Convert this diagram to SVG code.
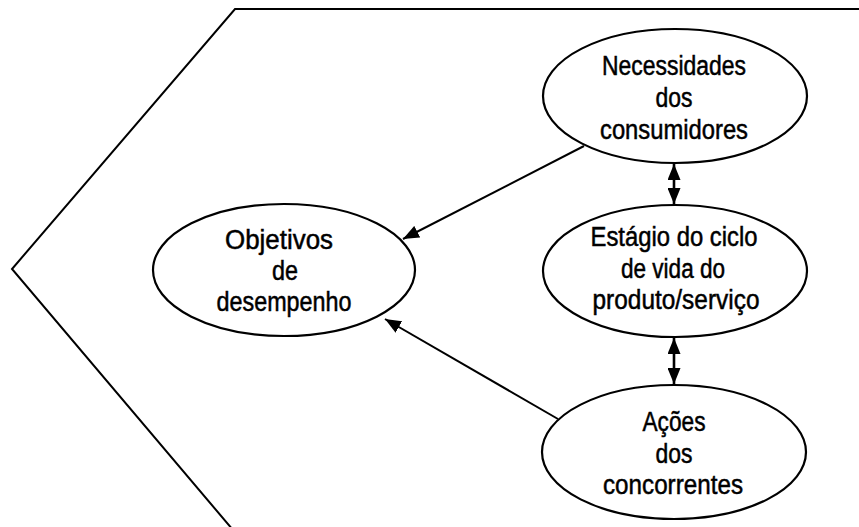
<svg xmlns="http://www.w3.org/2000/svg" width="859" height="527" viewBox="0 0 859 527">
<style>
.frame{fill:none;stroke:#000;stroke-width:2;stroke-linejoin:miter}
.node{fill:#fff;stroke:#000;stroke-width:2.2}
.lbl{font-family:"Liberation Sans Narrow","Liberation Sans",Arial,sans-serif;font-size:27px;fill:#000;stroke:#000;stroke-width:0.5;text-anchor:middle}
.conn{stroke:#000;stroke-width:2;fill:none}
.dbl{stroke:#000;stroke-width:2.6;fill:none}
</style>
<defs>
<marker id="ah2" viewBox="0 0 16 13" refX="16" refY="6.5" markerWidth="16" markerHeight="13" markerUnits="userSpaceOnUse" orient="auto-start-reverse">
<path d="M0,0 L16,6.5 L0,13 z" fill="#000"/>
</marker>
</defs>
<rect width="859" height="527" fill="#fff"/>
<path class="frame" d="M859,9 L235,9 L12,269 L233,530"/>
<g id="connectors">
<line class="conn" x1="584" y1="146" x2="403" y2="239" marker-end="url(#ah2)"/>
<line class="conn" x1="558" y1="419" x2="385" y2="319" marker-end="url(#ah2)"/>
<line class="dbl" x1="674" y1="164" x2="674" y2="204" marker-start="url(#ah2)" marker-end="url(#ah2)"/>
<line class="dbl" x1="674" y1="338" x2="674" y2="384" marker-start="url(#ah2)" marker-end="url(#ah2)"/>
</g>
<g id="objetivos">
<ellipse class="node" cx="284" cy="270" rx="131" ry="66"/>
<text class="lbl" x="279" y="249" textLength="108" lengthAdjust="spacingAndGlyphs">Objetivos</text>
<text class="lbl" x="285" y="280" textLength="26" lengthAdjust="spacingAndGlyphs">de</text>
<text class="lbl" x="284" y="311" textLength="135" lengthAdjust="spacingAndGlyphs">desempenho</text>
</g>
<g id="necessidades">
<ellipse class="node" cx="675" cy="96" rx="132" ry="67"/>
<text class="lbl" x="674" y="75" textLength="144" lengthAdjust="spacingAndGlyphs">Necessidades</text>
<text class="lbl" x="674" y="107" textLength="37" lengthAdjust="spacingAndGlyphs">dos</text>
<text class="lbl" x="674" y="139" textLength="148" lengthAdjust="spacingAndGlyphs">consumidores</text>
</g>
<g id="estagio">
<ellipse class="node" cx="675" cy="271" rx="132" ry="66"/>
<text class="lbl" x="674" y="246" textLength="167" lengthAdjust="spacingAndGlyphs">Estágio do ciclo</text>
<text class="lbl" x="673" y="278" textLength="104" lengthAdjust="spacingAndGlyphs">de vida do</text>
<text class="lbl" x="676" y="309" textLength="167" lengthAdjust="spacingAndGlyphs">produto/serviço</text>
</g>
<g id="acoes">
<ellipse class="node" cx="674" cy="452" rx="132" ry="67"/>
<text class="lbl" x="674" y="431" textLength="63" lengthAdjust="spacingAndGlyphs">Ações</text>
<text class="lbl" x="674" y="463" textLength="37" lengthAdjust="spacingAndGlyphs">dos</text>
<text class="lbl" x="673" y="494" textLength="140" lengthAdjust="spacingAndGlyphs">concorrentes</text>
</g>
</svg>
